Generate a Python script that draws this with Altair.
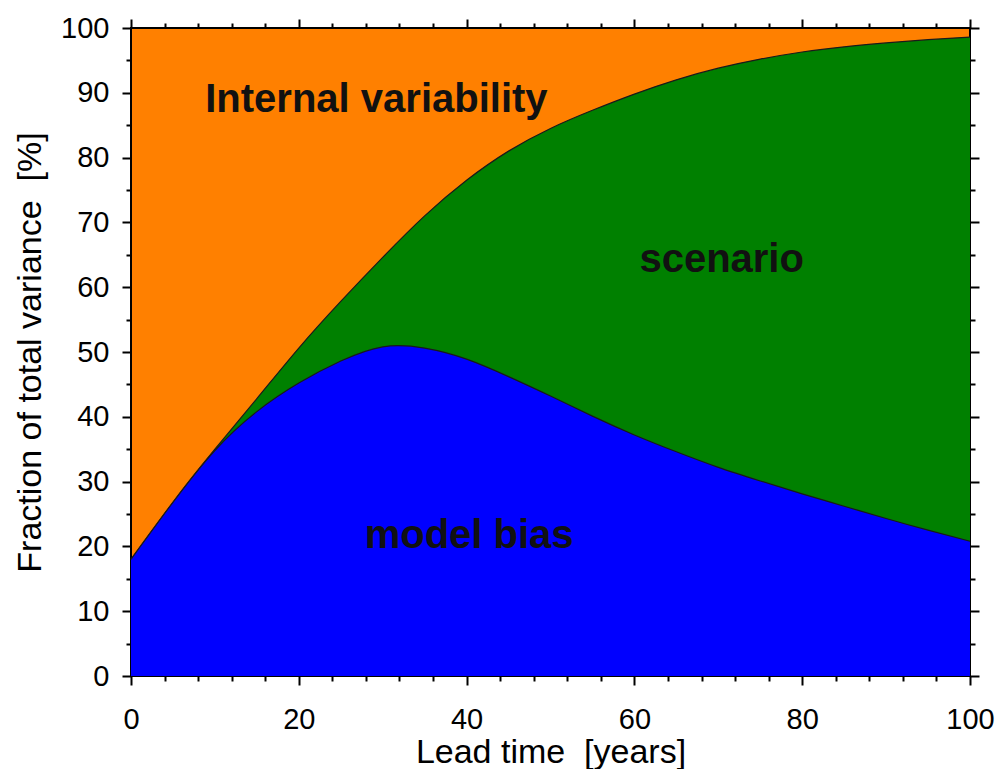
import altair as alt
import pandas as pd

# Lead time (years)
lead_time = [0, 5, 10, 15, 20, 25, 30, 35, 40, 45, 50, 55, 60, 65, 70, 75, 80, 85, 90, 95, 100]
# Upper edge of the "model bias" band (%)
model_bias = [18.0, 26.8, 34.8, 40.8, 45.2, 48.6, 50.8, 50.6, 48.9, 46.2, 43.2,
              40.1, 37.2, 34.6, 32.2, 30.1, 28.1, 26.2, 24.3, 22.5, 20.8]
# Upper edge of the "scenario" band (model bias + scenario, %)
scenario_top = [18.0, 26.8, 35.0, 42.8, 50.6, 57.8, 64.6, 71.0, 76.5, 81.0, 84.5,
                87.3, 89.8, 92.0, 93.8, 95.2, 96.3, 97.1, 97.7, 98.2, 98.6]

label_text = ["Internal variability", "scenario", "model bias"]
label_x = [29.25, 70.4, 40.3]
label_y = [87.0, 62.3, 19.75]

df = pd.DataFrame({"t": lead_time, "bias": model_bias, "top": scenario_top})
df_lab = pd.DataFrame({"x": label_x, "y": label_y, "text": label_text})

FONT = "Liberation Sans"
x_ticks = list(range(0, 101, 4))
y_ticks = list(range(0, 101, 5))

x_cond = {"condition": {"test": "datum.value % 20 === 0", "value": 9}, "value": 5}
y_cond = {"condition": {"test": "datum.value % 10 === 0", "value": 9}, "value": 5}

common = dict(grid=False, domain=False, tickColor="black", tickWidth=2,
              labelFont=FONT, labelFontSize=29, labelColor="black",
              labelOverlap=False, labelFlush=False,
              titleFont=FONT, titleFontSize=34, titleFontWeight="normal",
              titleColor="black")

x_bottom = alt.Axis(orient="bottom", values=x_ticks, tickSize=x_cond,
                    labelExpr="datum.value % 20 === 0 ? datum.label : ''",
                    labelPadding=20, title="Lead time\u00a0 [years]",
                    titleY=86, titleBaseline="alphabetic", **common)
y_left = alt.Axis(orient="left", values=y_ticks, tickSize=y_cond,
                  labelExpr="datum.value % 10 === 0 ? datum.label : ''",
                  labelPadding=13, title="Fraction of total variance\u00a0 [%]",
                  titleX=-91, titleAngle=270, titleBaseline="alphabetic", **common)
x_top = alt.Axis(orient="top", values=x_ticks, tickSize=x_cond, labels=False,
                 title=None, grid=False, domain=False, tickColor="black", tickWidth=2)
y_right = alt.Axis(orient="right", values=y_ticks, tickSize=y_cond, labels=False,
                   title=None, grid=False, domain=False, tickColor="black", tickWidth=2)

xs = alt.Scale(domain=[0, 100], nice=False, zero=False)
ys = alt.Scale(domain=[0, 100], nice=False)

green = alt.Chart(df).mark_area(
    color="#008000", opacity=1, interpolate="natural",
    line={"color": "#1a1a1a", "strokeWidth": 1.2},
).encode(
    x=alt.X("t:Q", scale=xs, axis=x_bottom),
    y=alt.Y("top:Q", scale=ys, axis=y_left),
)

blue = alt.Chart(df).mark_area(
    color="#0000FF", opacity=1, interpolate="natural",
    line={"color": "#1a1a1a", "strokeWidth": 1.2},
).encode(
    x=alt.X("t:Q", scale=xs, axis=x_top),
    y=alt.Y("bias:Q", scale=ys, axis=y_right),
)

labels = alt.Chart(df_lab).mark_text(
    font=FONT, fontWeight="bold", fontSize=40, color="#111111",
    baseline="alphabetic", align="center",
).encode(
    x=alt.X("x:Q", scale=xs, axis=None),
    y=alt.Y("y:Q", scale=ys, axis=None),
    text="text:N",
)

chart = alt.layer(green, blue, labels).resolve_axis(
    x="independent", y="independent"
).properties(
    width=839, height=648,
    autosize=alt.AutoSizeParams(type="none"),
    padding={"left": 123, "top": 20, "right": 25, "bottom": 93},
    background="white",
).configure_view(
    stroke="black", strokeWidth=2, fill="#FF8000"
)

chart.save("out.html", embed_options={"renderer": "svg", "actions": False})
